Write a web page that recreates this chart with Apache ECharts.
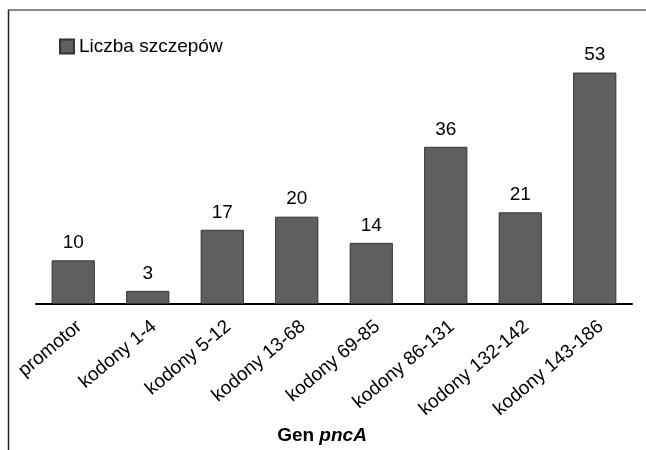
<!DOCTYPE html>
<html>
<head>
<meta charset="utf-8">
<script src="https://cdn.jsdelivr.net/npm/echarts@6/dist/echarts.min.js"></script>
<style>
  html, body { margin: 0; padding: 0; background: #fff; }
  #chart { width: 646px; height: 450px; }
</style>
</head>
<body>
<div id="chart"></div>
<script>
// dane wykresu
var categories = ['promotor', 'kodony 1-4', 'kodony 5-12', 'kodony 13-68', 'kodony 69-85', 'kodony 86-131', 'kodony 132-142', 'kodony 143-186']
var counts = [10, 3, 17, 20, 14, 36, 21, 53]
var seriesName = 'Liczba szczepów'

var font = 'Liberation Sans, Arial, sans-serif'
var chart = echarts.init(document.getElementById('chart'))

chart.setOption({
  animation: false,
  textStyle: { fontFamily: font },
  // ramka: górna i lewa linia
  graphic: [
    { type: 'line', shape: { x1: 8, y1: 10, x2: 646, y2: 10 }, style: { stroke: '#666', lineWidth: 1.5 } },
    { type: 'line', shape: { x1: 8.5, y1: 10, x2: 8.5, y2: 450 }, style: { stroke: '#222', lineWidth: 1.5 } }
  ],
  legend: {
    left: 59,
    top: 37,
    padding: 0,
    itemWidth: 14,
    itemHeight: 14,
    itemGap: 6,
    textStyle: { fontSize: 19, color: '#000', fontFamily: font },
    data: [{ name: seriesName, icon: 'rect' }]
  },
  grid: {
    left: 36,
    right: 14,
    top: 42,
    bottom: 146,
    outerBoundsMode: 'none',
    containLabel: false
  },
  xAxis: {
    type: 'category',
    data: categories,
    axisLine: { lineStyle: { color: '#000', width: 2 } },
    axisTick: { show: false },
    axisLabel: {
      rotate: 40,
      interval: 0,
      margin: 13,
      align: 'right',
      verticalAlign: 'top',
      fontSize: 19,
      color: '#000',
      fontFamily: font
    },
    name: '{b|Gen }{bi|pncA}',
    nameLocation: 'middle',
    nameGap: 121,
    nameTextStyle: {
      padding: [0, 24, 0, 0],
      rich: {
        b: { fontSize: 19, fontWeight: 'bold', color: '#000', fontFamily: font },
        bi: { fontSize: 19, fontWeight: 'bold', fontStyle: 'italic', color: '#000', fontFamily: font }
      }
    }
  },
  yAxis: {
    type: 'value',
    min: 0,
    max: 60,
    show: false
  },
  series: [
    {
      name: seriesName,
      type: 'bar',
      data: counts,
      barWidth: '58%',
      itemStyle: { color: '#5f5f5f', borderColor: '#333', borderWidth: 1 },
      label: {
        show: true,
        position: 'top',
        distance: 8,
        fontSize: 19,
        color: '#000',
        fontFamily: font
      }
    }
  ]
})
</script>
</body>
</html>
